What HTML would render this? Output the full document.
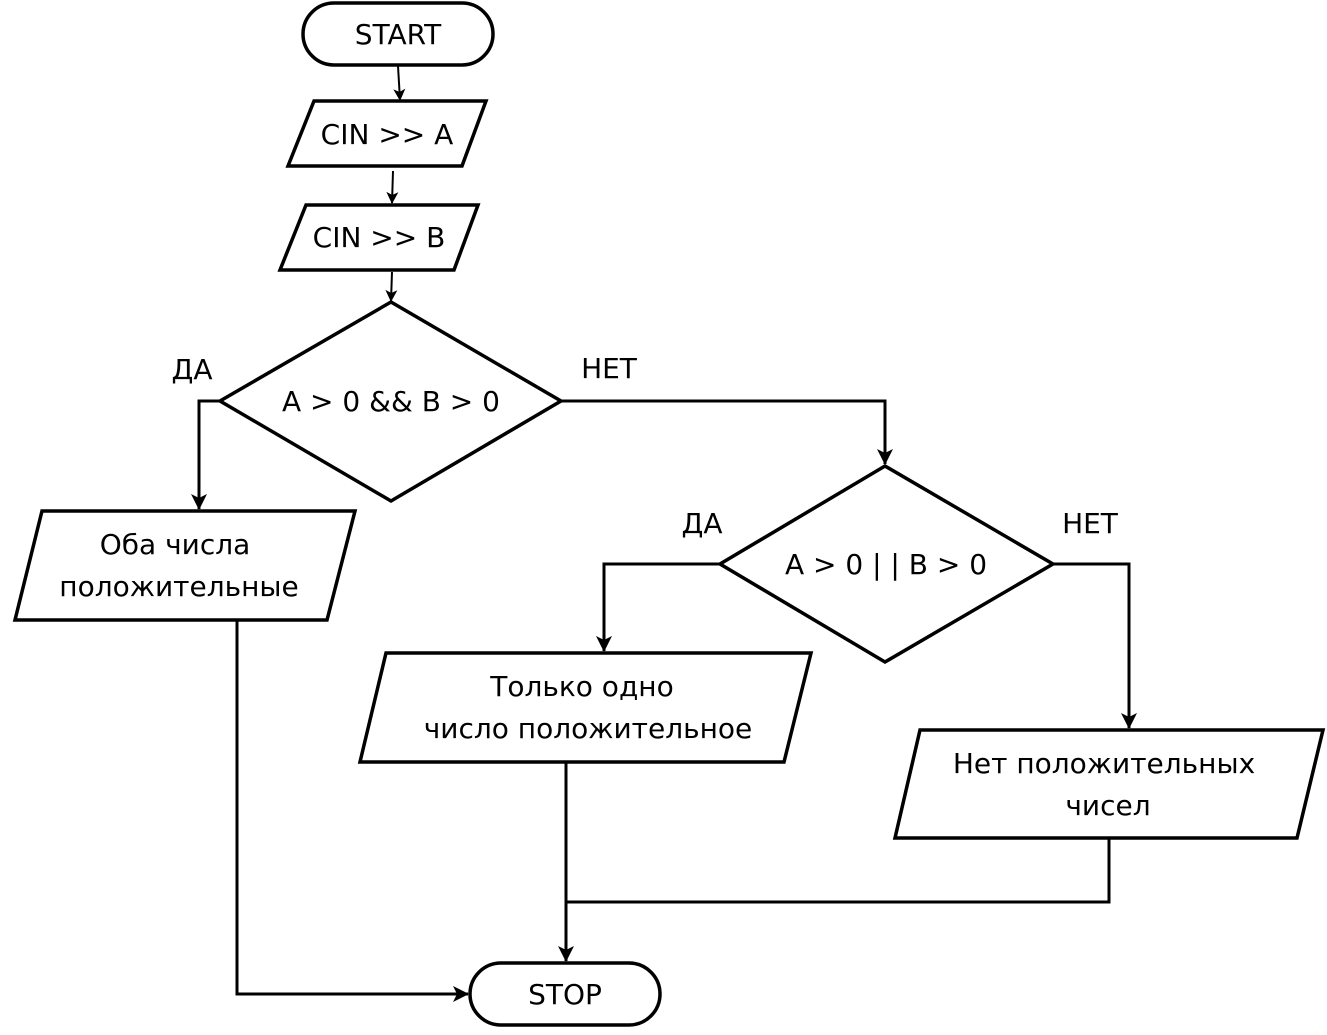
<!DOCTYPE html>
<html><head><meta charset="utf-8"><style>
html,body{margin:0;padding:0;background:#fff;}
svg text{font-family:"DejaVu Sans","Liberation Sans",sans-serif;font-size:28px;fill:#000;text-anchor:middle;}
</style></head><body>
<svg width="1327" height="1030" viewBox="0 0 1327 1030" xmlns="http://www.w3.org/2000/svg">
<defs>
<marker id="a" markerWidth="12" markerHeight="12" refX="11" refY="6" orient="auto" markerUnits="userSpaceOnUse" viewBox="0 0 12 12">
<path d="M0,0 L12,6 L0,12 L3,6 z" fill="#000"/></marker>
<marker id="b" markerWidth="16" markerHeight="16" refX="15" refY="8" orient="auto" markerUnits="userSpaceOnUse" viewBox="0 0 16 16">
<path d="M0,0 L16,8 L0,16 L4,8 z" fill="#000"/></marker>
</defs>
<g fill="none" stroke="#000" stroke-width="3.5">
<rect x="303" y="3" width="190" height="62" rx="31"/>
<polygon points="314,101 486,101 462,166 288,166"/>
<polygon points="306,205 478,205 454,270 280,270"/>
<polygon points="391,302 561,401 391,501 220,401"/>
<polygon points="42,511 355,511 327,620 15,620"/>
<polygon points="885,466 1053,564 885,662 720,564"/>
<polygon points="386,653 811,653 784,762 360,762"/>
<polygon points="920,730 1323,730 1297,838 895,838"/>
<rect x="470" y="963" width="190" height="62" rx="31"/>
</g>
<g fill="none" stroke="#000" stroke-width="2">
<line x1="398" y1="66" x2="400" y2="100" marker-end="url(#a)"/>
<line x1="393" y1="171" x2="392" y2="203" marker-end="url(#a)"/>
<line x1="392" y1="272" x2="391" y2="301" marker-end="url(#a)"/>
</g>
<g fill="none" stroke="#000" stroke-width="3">
<polyline points="220,401 199,401 199,509" marker-end="url(#b)"/>
<polyline points="237,620 237,994 468,994" marker-end="url(#b)"/>
<polyline points="561,401 885,401 885,464" marker-end="url(#b)"/>
<polyline points="720,564 604,564 604,651" marker-end="url(#b)"/>
<polyline points="566,762 566,961" marker-end="url(#b)"/>
<polyline points="1053,564 1129,564 1129,728" marker-end="url(#b)"/>
<polyline points="1109,838 1109,902 566,902"/>
</g>
<text x="398" y="44">START</text>
<text x="387" y="144">CIN &gt;&gt; A</text>
<text x="379" y="247">CIN &gt;&gt; B</text>
<text x="391" y="411">A &gt; 0 &amp;&amp; B &gt; 0</text>
<text x="886" y="574">A &gt; 0 | | B &gt; 0</text>
<text x="175" y="554">Оба числа</text>
<text x="179" y="596">положительные</text>
<text x="582" y="696">Только одно</text>
<text x="588" y="738">число положительное</text>
<text x="1104" y="773">Нет положительных</text>
<text x="1108" y="815">чисел</text>
<text x="565" y="1004">STOP</text>
<text x="192" y="379">ДА</text>
<text x="609" y="378">НЕТ</text>
<text x="702" y="533">ДА</text>
<text x="1090" y="533">НЕТ</text>
</svg>
</body></html>
